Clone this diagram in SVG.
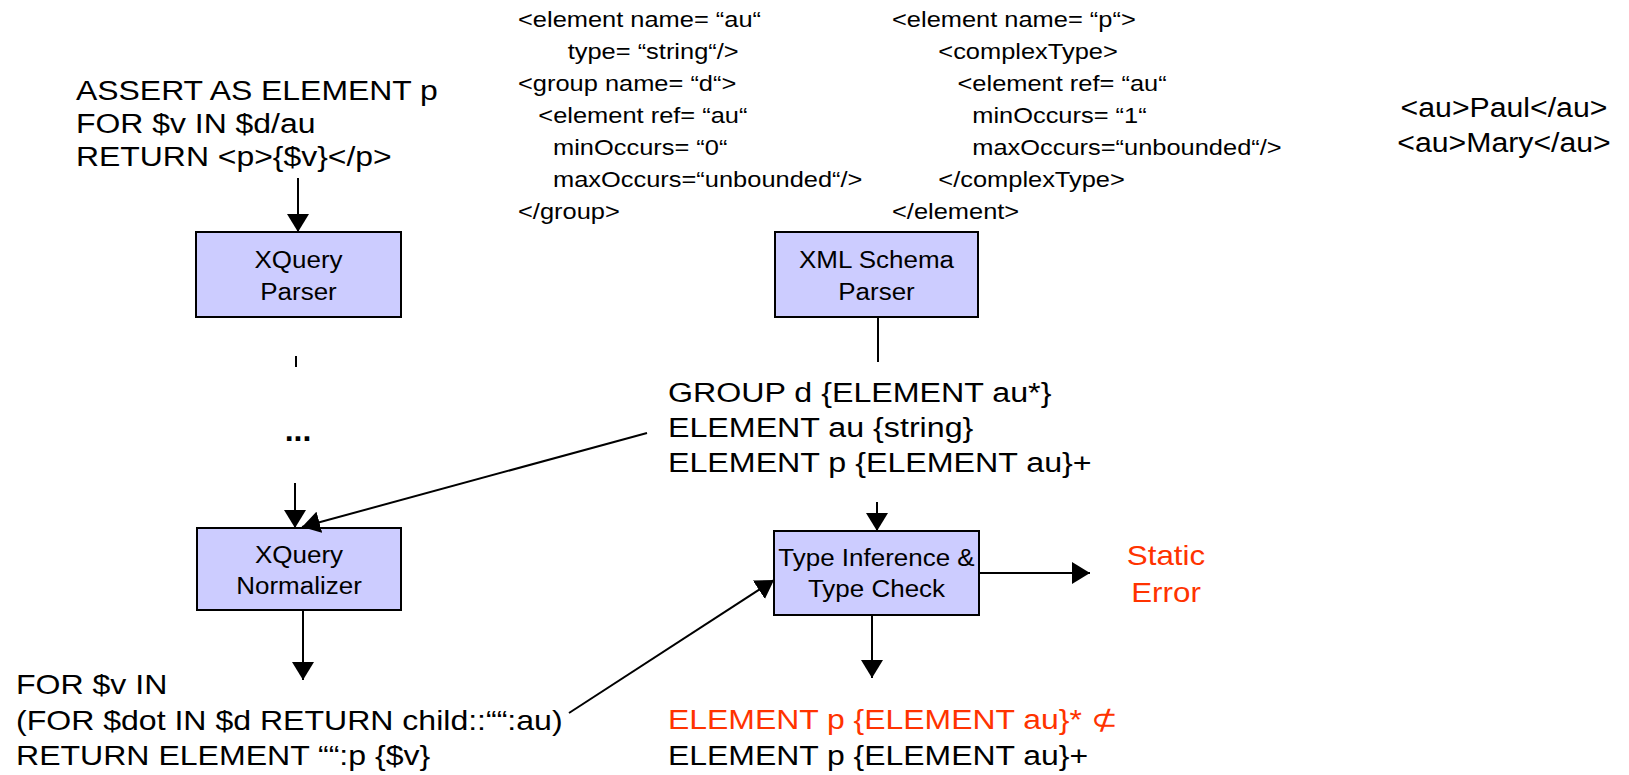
<svg xmlns="http://www.w3.org/2000/svg" width="1629" height="775" viewBox="0 0 1629 775">
<style>
text{font-family:"Liberation Sans",Arial,sans-serif;fill:#000}
.big{font-size:28px}
.code{font-size:22.5px}
.box{font-size:23px}
.red{fill:#ff3300}
.mid{text-anchor:middle}
rect.node{fill:#ccccff;stroke:#000;stroke-width:2}
.conn line{stroke:#000;stroke-width:2}
</style>
<defs>
<marker id="ah" markerUnits="userSpaceOnUse" markerWidth="18" markerHeight="22" refX="18" refY="11" orient="auto" viewBox="0 0 18 22">
<path d="M0,0 L18,11 L0,22 z" fill="#000"/>
</marker>
</defs>
<rect width="1629" height="775" fill="#fff"/>

<g id="xquery-source">
<text class="big" transform="translate(76,100) scale(1.14,1)"><tspan x="0" y="0">ASSERT AS ELEMENT p</tspan><tspan x="0" y="33">FOR $v IN $d/au</tspan><tspan x="0" y="66">RETURN &lt;p&gt;{$v}&lt;/p&gt;</tspan></text>
</g>

<g id="schema-source-1">
<text class="code" transform="translate(518,27) scale(1.13,1)"><tspan x="0" y="0">&lt;element name= “au“</tspan><tspan x="44" y="32">type= “string“/&gt;</tspan><tspan x="0" y="64">&lt;group name= “d“&gt;</tspan><tspan x="18" y="96">&lt;element ref= “au“</tspan><tspan x="31" y="128">minOccurs= “0“</tspan><tspan x="31" y="160">maxOccurs=“unbounded“/&gt;</tspan><tspan x="0" y="192">&lt;/group&gt;</tspan></text>
</g>

<g id="schema-source-2">
<text class="code" transform="translate(892,27) scale(1.13,1)"><tspan x="0" y="0">&lt;element name= “p“&gt;</tspan><tspan x="41" y="32">&lt;complexType&gt;</tspan><tspan x="58" y="64">&lt;element ref= “au“</tspan><tspan x="71" y="96">minOccurs= “1“</tspan><tspan x="71" y="128">maxOccurs=“unbounded“/&gt;</tspan><tspan x="41" y="160">&lt;/complexType&gt;</tspan><tspan x="0" y="192">&lt;/element&gt;</tspan></text>
</g>

<g id="instance-data">
<text class="big mid" transform="translate(1504,117) scale(1.12,1)" style="font-size:27px"><tspan x="0" y="0">&lt;au&gt;Paul&lt;/au&gt;</tspan><tspan x="0" y="35">&lt;au&gt;Mary&lt;/au&gt;</tspan></text>
</g>

<g id="xquery-parser">
<rect class="node" x="196" y="232" width="205" height="85"/>
<text class="box mid" transform="translate(298.5,268) scale(1.13,1)"><tspan x="0" y="0">XQuery</tspan><tspan x="0" y="32">Parser</tspan></text>
</g>

<g id="xml-schema-parser">
<rect class="node" x="775" y="232" width="203" height="85"/>
<text class="box mid" transform="translate(876.5,268) scale(1.13,1)"><tspan x="0" y="0">XML Schema</tspan><tspan x="0" y="32">Parser</tspan></text>
</g>

<g id="ellipsis">
<text class="mid" transform="translate(298,441)" style="font-size:32px;font-weight:bold">...</text>
</g>

<g id="schema-types">
<text class="big" transform="translate(668,402) scale(1.15,1)"><tspan x="0" y="0">GROUP d {ELEMENT au*}</tspan><tspan x="0" y="35">ELEMENT au {string}</tspan><tspan x="0" y="70">ELEMENT p {ELEMENT au}+</tspan></text>
</g>

<g id="xquery-normalizer">
<rect class="node" x="197" y="528" width="204" height="82"/>
<text class="box mid" transform="translate(299,563) scale(1.13,1)"><tspan x="0" y="0">XQuery</tspan><tspan x="0" y="31">Normalizer</tspan></text>
</g>

<g id="type-check">
<rect class="node" x="774" y="531" width="205" height="84"/>
<text class="box mid" transform="translate(876.5,566) scale(1.13,1)"><tspan x="0" y="0">Type Inference &amp;</tspan><tspan x="0" y="31">Type Check</tspan></text>
</g>

<g id="static-error">
<text class="big mid red" transform="translate(1166,565) scale(1.12,1)"><tspan x="0" y="0">Static</tspan><tspan x="0" y="37">Error</tspan></text>
</g>

<g id="normalized-query">
<text class="big" transform="translate(16,694) scale(1.145,1)"><tspan x="0" y="0">FOR $v IN</tspan><tspan x="0" y="36">(FOR $dot IN $d RETURN child::““:au)</tspan><tspan x="0" y="71">RETURN ELEMENT ““:p {$v}</tspan></text>
</g>

<g id="result-type">
<text class="big" transform="translate(668,729) scale(1.14,1)"><tspan class="red" x="0" y="0">ELEMENT p {ELEMENT au}* ⊄</tspan><tspan x="0" y="36">ELEMENT p {ELEMENT au}+</tspan></text>
</g>

<g id="connectors" class="conn">
<line x1="298" y1="178" x2="298" y2="232" marker-end="url(#ah)"/>
<line x1="296" y1="356" x2="296" y2="367"/>
<line x1="295" y1="483" x2="295" y2="528" marker-end="url(#ah)"/>
<line x1="647" y1="433" x2="302" y2="527" marker-end="url(#ah)"/>
<line x1="878" y1="317" x2="878" y2="362"/>
<line x1="877" y1="502" x2="877" y2="531" marker-end="url(#ah)"/>
<line x1="979" y1="573" x2="1090" y2="573" marker-end="url(#ah)"/>
<line x1="872" y1="615" x2="872" y2="678" marker-end="url(#ah)"/>
<line x1="303" y1="610" x2="303" y2="680" marker-end="url(#ah)"/>
<line x1="569" y1="713" x2="774" y2="580" marker-end="url(#ah)"/>
</g>
</svg>
